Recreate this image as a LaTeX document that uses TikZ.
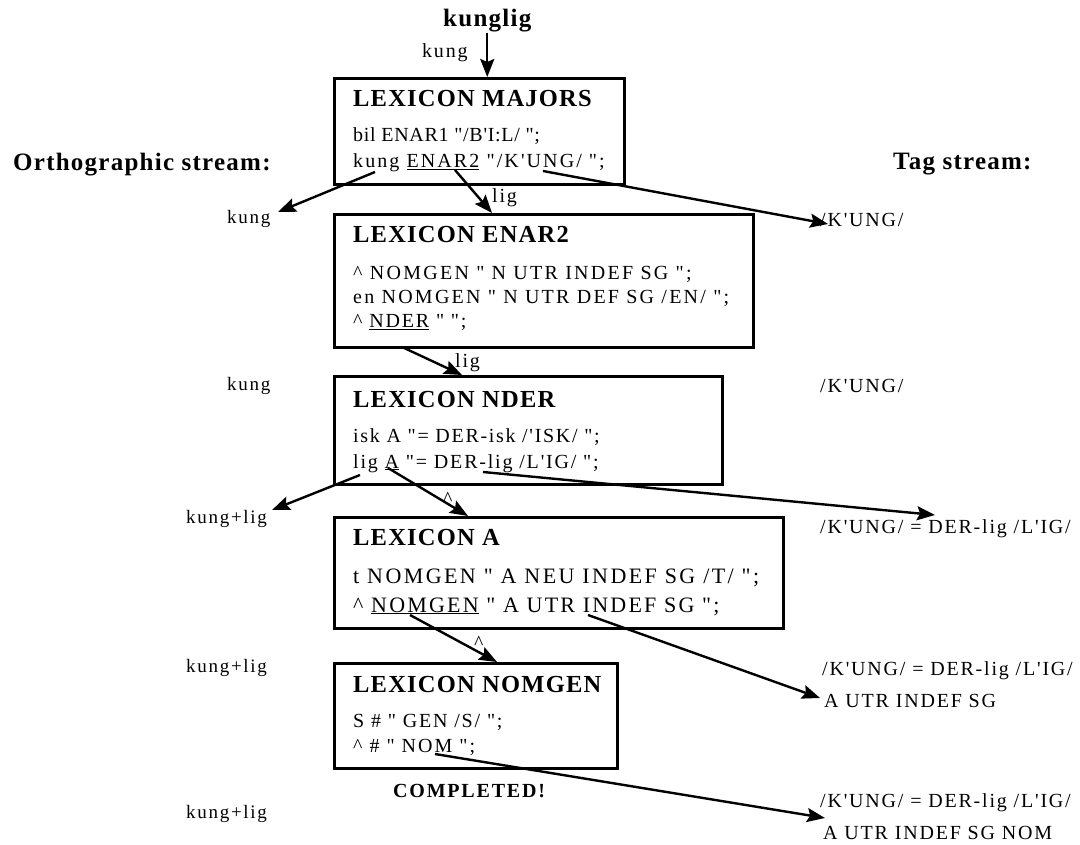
\documentclass[tikz,border=0pt]{standalone}
\usepackage{fontspec}
\setmainfont{Liberation Serif}[Ligatures=TeXOff,LetterSpace=9]
\newfontfamily\headfont{Liberation Serif}[Ligatures=TeXOff,LetterSpace=5]
\newcommand\trk[1]{\addfontfeature{LetterSpace=#1}}
\usetikzlibrary{arrows.meta}
\begin{document}
\begin{tikzpicture}[x=1pt,y=-1pt,
  lexbox/.style={draw, line width=2.6pt, inner sep=0pt, anchor=north west},
  head/.style={anchor=base west, inner sep=0pt, font=\headfont\bfseries\fontsize{25}{29}\selectfont},
  ttl/.style={anchor=base west, inner sep=0pt, font=\headfont\bfseries\fontsize{24.5}{28}\selectfont},
  ln/.style={anchor=base west, inner sep=0pt, font=\fontsize{20}{24}\selectfont},
  lnbig/.style={anchor=base west, inner sep=0pt, font=\fontsize{22}{26}\selectfont},
  lbl/.style={anchor=base west, inner sep=0pt, font=\fontsize{19}{23}\selectfont},
  arr/.style={line width=2.4pt, -{Stealth[length=18pt,width=14pt,inset=3pt]}}]
\useasboundingbox (0,0) rectangle (1080,845);
\fill[white] (0,0) rectangle (1080,845);

% headings
\node[head] (kunglig) at (443,27) {kunglig};
\node[ln] (kungtop) at (422,58) {kung};
\node[head] (orth) at (13,171) {Orthographic stream:};
\node[head] (tagst) at (893,170) {Tag stream:};

% LEXICON MAJORS
\node[lexbox, minimum width=290pt, minimum height=106pt] (mj) at (333,77) {};
\node[ttl] (mjt) at (353,107) {LEXICON MAJORS};
\node[ln] (mj1) at (353,142) {\trk{3.5}bil ENAR1 "/B'I:L/ ";};
\node[ln] (mj2) at (353,168) {\trk{10.5}kung \underline{ENAR2} "/K'UNG/ ";};

% LEXICON ENAR2
\node[lexbox, minimum width=419pt, minimum height=133pt] (en) at (333,213) {};
\node[ttl] (ent) at (353,243) {LEXICON ENAR2};
\node[ln] (en1) at (353,280) {\trk{11.4}\textasciicircum{} NOMGEN " N UTR INDEF SG ";};
\node[ln] (en2) at (353,304) {\trk{11.3}en NOMGEN " N UTR DEF SG /EN/ ";};
\node[ln] (en3) at (353,328) {\textasciicircum{} \underline{NDER} " ";};

% LEXICON NDER
\node[lexbox, minimum width=388pt, minimum height=108pt] (nd) at (333,375) {};
\node[ttl] (ndt) at (353,407) {LEXICON NDER};
\node[ln] (nd1) at (353,442) {\trk{8.4}isk A "= DER-isk /'ISK/ ";};
\node[ln] (nd2) at (353,468) {lig \underline{A} "= DER-lig /L'IG/ ";};

% LEXICON A
\node[lexbox, minimum width=449pt, minimum height=111pt] (la) at (333,516) {};
\node[ttl] (lat) at (353,545) {LEXICON A};
\node[lnbig] (la1) at (353,583) {\trk{11}t NOMGEN " A NEU INDEF SG /T/ ";};
\node[lnbig] (la2) at (353,612) {\trk{10}\textasciicircum{} \underline{NOMGEN} " A UTR INDEF SG ";};

% LEXICON NOMGEN
\node[lexbox, minimum width=283pt, minimum height=105pt] (ng) at (333,662) {};
\node[ttl] (ngt) at (353,692) {LEXICON NOMGEN};
\node[ln] (ng1) at (353,727) {S \# " GEN /S/ ";};
\node[ln] (ng2) at (353,752) {\trk{10}\textasciicircum{} \# " NOM ";};
\node[anchor=base west, inner sep=0pt, font=\bfseries\fontsize{20}{24}\selectfont] (done) at (393,797) {COMPLETED!};

% orthographic stream
\node[lbl] (o1) at (227,224) {kung};
\node[lbl] (o2) at (227,390) {kung};
\node[lbl] (o3) at (186,523) {kung+lig};
\node[lbl] (o4) at (186,672) {kung+lig};
\node[lbl] (o5) at (186,818) {kung+lig};

% tag stream
\node[ln] (t1) at (820,227) {/K'UNG/};
\node[ln] (t2) at (820,392) {/K'UNG/};
\node[ln] (t3) at (820,533) {/K'UNG/ = DER-lig /L'IG/};
\node[ln] (t4a) at (822,675) {/K'UNG/ = DER-lig /L'IG/};
\node[ln] (t4b) at (824,707) {A UTR INDEF SG};
\node[ln] (t5a) at (820,807) {/K'UNG/ = DER-lig /L'IG/};
\node[ln] (t5b) at (823,839) {A UTR INDEF SG NOM};

% arrow labels
\node[ln] (lig1) at (492,203) {lig};
\node[ln] (lig2) at (455,367) {lig};
\node[ln] (hat1) at (443,505) {\textasciicircum};
\node[ln] (hat2) at (474,649) {\textasciicircum};

% connector ends
\coordinate (mjKung) at (375,172);
\coordinate (mjEnar) at (455,170);
\coordinate (mjUng) at (543,171);
\coordinate (enNder) at (402,347);
\coordinate (ndLig) at (360,475);
\coordinate (ndA) at (388,468);
\coordinate (ndDer) at (483,472);
\coordinate (laNom) at (410,615);
\coordinate (laInd) at (588,615);
\coordinate (ngNom) at (435,754);
\coordinate (o1tip) at (278,212);
\coordinate (entop) at (492,213);
\coordinate (t1tip) at (828,224);
\coordinate (ndtop) at (462,375);
\coordinate (o3tip) at (272,510);
\coordinate (latop) at (468,516);
\coordinate (t3tip) at (935,515);
\coordinate (ngtop) at (497,662);
\coordinate (t4tip) at (820,698);
\coordinate (t5tip) at (825,818);

% connectors
\draw[arr] (kunglig.south) -- (kunglig.south |- mj.north);
\draw[arr] (mjKung) -- (o1tip);
\draw[arr] (mjEnar) -- (entop);
\draw[arr] (mjUng) -- (t1tip);
\draw[arr] (enNder) -- (ndtop);
\draw[arr] (ndLig) -- (o3tip);
\draw[arr] (ndA) -- (latop);
\draw[arr] (ndDer) -- (t3tip);
\draw[arr] (laNom) -- (ngtop);
\draw[arr] (laInd) -- (t4tip);
\draw[arr] (ngNom) -- (t5tip);
\end{tikzpicture}
\end{document}
